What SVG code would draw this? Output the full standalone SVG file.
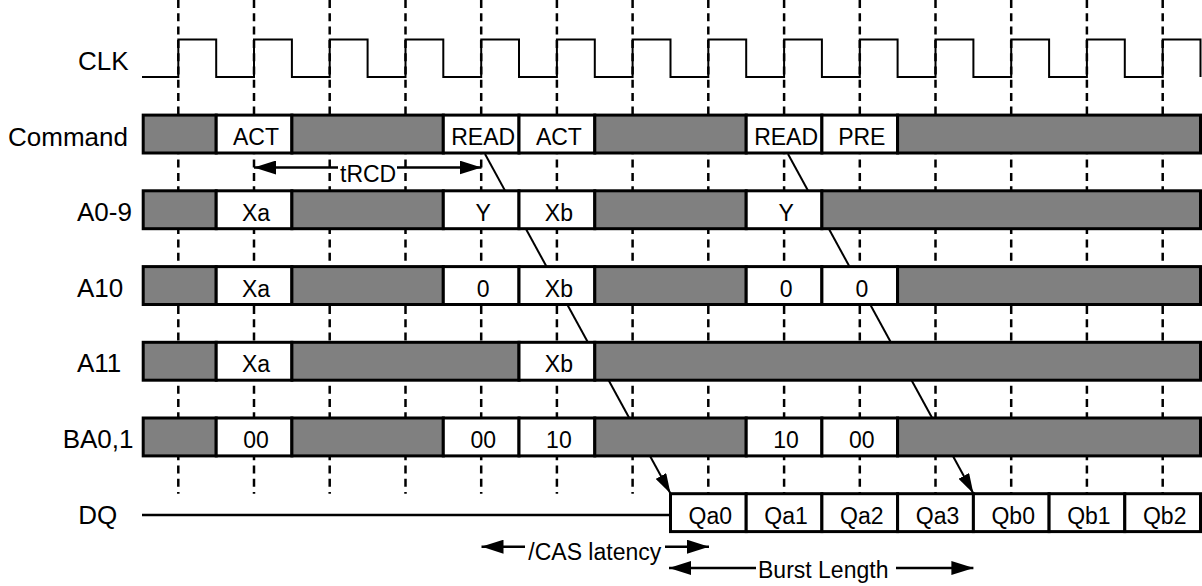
<svg xmlns="http://www.w3.org/2000/svg" width="1202" height="586" viewBox="0 0 1202 586">
<style>
.bg{fill:#ffffff}
.g{fill:#808080;stroke:#000;stroke-width:3}
.w{fill:#ffffff;stroke:#000;stroke-width:3}
.t{font-family:"Liberation Sans",Arial,sans-serif;font-size:23px;fill:#000;text-anchor:middle}
.lbl{font-family:"Liberation Sans",Arial,sans-serif;font-size:26px;fill:#000}
.dim{font-family:"Liberation Sans",Arial,sans-serif;font-size:23px;fill:#000}
.grid{stroke:#000;stroke-width:2.5;stroke-dasharray:8 5.3;fill:none}
.wire{stroke:#000;stroke-width:2;fill:none}
.arr{stroke:#000;stroke-width:2.5;fill:none}
</style>
<defs>
<marker id="ah" markerUnits="userSpaceOnUse" markerWidth="22" markerHeight="14" refX="22" refY="7" orient="auto-start-reverse">
<path d="M0,0 L22,7 L0,14 Z" fill="#000"/>
</marker>
<marker id="ahd" markerUnits="userSpaceOnUse" markerWidth="20" markerHeight="12" refX="20" refY="6" orient="auto">
<path d="M0,0 L20,6 L0,12 Z" fill="#000"/>
</marker>
</defs>
<rect class="bg" x="0" y="0" width="1202" height="586"/>

<g id="grid">
<line class="grid" x1="178.3" y1="0" x2="178.3" y2="493.7"/>
<line class="grid" x1="254.0" y1="0" x2="254.0" y2="493.7"/>
<line class="grid" x1="329.7" y1="0" x2="329.7" y2="493.7"/>
<line class="grid" x1="405.5" y1="0" x2="405.5" y2="493.7"/>
<line class="grid" x1="481.2" y1="0" x2="481.2" y2="493.7"/>
<line class="grid" x1="556.9" y1="0" x2="556.9" y2="493.7"/>
<line class="grid" x1="632.6" y1="0" x2="632.6" y2="493.7"/>
<line class="grid" x1="708.3" y1="0" x2="708.3" y2="493.7"/>
<line class="grid" x1="784.1" y1="0" x2="784.1" y2="493.7"/>
<line class="grid" x1="859.8" y1="0" x2="859.8" y2="493.7"/>
<line class="grid" x1="935.5" y1="0" x2="935.5" y2="493.7"/>
<line class="grid" x1="1011.2" y1="0" x2="1011.2" y2="493.7"/>
<line class="grid" x1="1086.9" y1="0" x2="1086.9" y2="493.7"/>
<line class="grid" x1="1162.7" y1="0" x2="1162.7" y2="493.7"/>
</g>

<g id="connectors">
<line class="wire" x1="485" y1="154" x2="670.5" y2="493.5" marker-end="url(#ahd)"/>
<line class="wire" x1="788" y1="154" x2="973.4" y2="493.5" marker-end="url(#ahd)"/>
<line class="arr" x1="254" y1="167.5" x2="338" y2="167.5" marker-start="url(#ah)"/>
<line class="arr" x1="397" y1="167.5" x2="481.5" y2="167.5" marker-end="url(#ah)"/>
<line class="arr" x1="481.5" y1="546.7" x2="525" y2="546.7" marker-start="url(#ah)"/>
<line class="arr" x1="665" y1="546.7" x2="709" y2="546.7" marker-end="url(#ah)"/>
<line class="arr" x1="669" y1="568" x2="756" y2="568" marker-start="url(#ah)"/>
<line class="arr" x1="896" y1="568" x2="973.4" y2="568" marker-end="url(#ah)"/>
</g>

<g id="row-clk">
<text class="lbl" x="78" y="70">CLK</text>
<path class="wire" d="M142,77 H178.3 V39.4 H216.2 V77 H254 V39.4 H291.9 V77 H329.7 V39.4 H367.6 V77 H405.5 V39.4 H443.3 V77 H481.2 V39.4 H519 V77 H556.9 V39.4 H594.8 V77 H632.6 V39.4 H670.5 V77 H708.3 V39.4 H746.2 V77 H784.1 V39.4 H821.9 V77 H859.8 V39.4 H897.6 V77 H935.5 V39.4 H973.4 V77 H1011.2 V39.4 H1049.1 V77 H1086.9 V39.4 H1124.8 V77 H1162.7 V39.4 H1200.5 V77"/>
</g>

<g id="row-command">
<text class="lbl" x="8" y="145.5">Command</text>
<rect class="g" x="143.2" y="115.1" width="73" height="37.9"/>
<rect class="w" x="216.2" y="115.1" width="75.7" height="37.9"/>
<rect class="g" x="291.9" y="115.1" width="151.4" height="37.9"/>
<rect class="w" x="443.3" y="115.1" width="75.7" height="37.9"/>
<rect class="w" x="519" y="115.1" width="75.8" height="37.9"/>
<rect class="g" x="594.8" y="115.1" width="151.4" height="37.9"/>
<rect class="w" x="746.2" y="115.1" width="75.7" height="37.9"/>
<rect class="w" x="821.9" y="115.1" width="75.7" height="37.9"/>
<rect class="g" x="897.6" y="115.1" width="302.9" height="37.9"/>
<text class="t" x="256" y="145">ACT</text>
<text class="t" x="483.2" y="145">READ</text>
<text class="t" x="558.9" y="145">ACT</text>
<text class="t" x="786.1" y="145">READ</text>
<text class="t" x="861.8" y="145">PRE</text>
</g>

<g id="row-a0-9">
<text class="lbl" x="77" y="221">A0-9</text>
<rect class="g" x="143.2" y="190.8" width="73" height="37.9"/>
<rect class="w" x="216.2" y="190.8" width="75.7" height="37.9"/>
<rect class="g" x="291.9" y="190.8" width="151.4" height="37.9"/>
<rect class="w" x="443.3" y="190.8" width="75.7" height="37.9"/>
<rect class="w" x="519" y="190.8" width="75.8" height="37.9"/>
<rect class="g" x="594.8" y="190.8" width="151.4" height="37.9"/>
<rect class="w" x="746.2" y="190.8" width="75.7" height="37.9"/>
<rect class="g" x="821.9" y="190.8" width="378.6" height="37.9"/>
<text class="t" x="256" y="220.7">Xa</text>
<text class="t" x="483.2" y="220.7">Y</text>
<text class="t" x="558.9" y="220.7">Xb</text>
<text class="t" x="786.1" y="220.7">Y</text>
</g>

<g id="row-a10">
<text class="lbl" x="77" y="296.5">A10</text>
<rect class="g" x="143.2" y="266.6" width="73" height="37.9"/>
<rect class="w" x="216.2" y="266.6" width="75.7" height="37.9"/>
<rect class="g" x="291.9" y="266.6" width="151.4" height="37.9"/>
<rect class="w" x="443.3" y="266.6" width="75.7" height="37.9"/>
<rect class="w" x="519" y="266.6" width="75.8" height="37.9"/>
<rect class="g" x="594.8" y="266.6" width="151.4" height="37.9"/>
<rect class="w" x="746.2" y="266.6" width="75.7" height="37.9"/>
<rect class="w" x="821.9" y="266.6" width="75.7" height="37.9"/>
<rect class="g" x="897.6" y="266.6" width="302.9" height="37.9"/>
<text class="t" x="256" y="296.5">Xa</text>
<text class="t" x="483.2" y="296.5">0</text>
<text class="t" x="558.9" y="296.5">Xb</text>
<text class="t" x="786.1" y="296.5">0</text>
<text class="t" x="861.8" y="296.5">0</text>
</g>

<g id="row-a11">
<text class="lbl" x="77" y="372">A11</text>
<rect class="g" x="143.2" y="342.3" width="73" height="37.9"/>
<rect class="w" x="216.2" y="342.3" width="75.7" height="37.9"/>
<rect class="g" x="291.9" y="342.3" width="227.1" height="37.9"/>
<rect class="w" x="519" y="342.3" width="75.8" height="37.9"/>
<rect class="g" x="594.8" y="342.3" width="605.7" height="37.9"/>
<text class="t" x="256" y="372.2">Xa</text>
<text class="t" x="558.9" y="372.2">Xb</text>
</g>

<g id="row-ba0-1">
<text class="lbl" x="62.7" y="448">BA0,1</text>
<rect class="g" x="143.2" y="418" width="73" height="37.9"/>
<rect class="w" x="216.2" y="418" width="75.7" height="37.9"/>
<rect class="g" x="291.9" y="418" width="151.4" height="37.9"/>
<rect class="w" x="443.3" y="418" width="75.7" height="37.9"/>
<rect class="w" x="519" y="418" width="75.8" height="37.9"/>
<rect class="g" x="594.8" y="418" width="151.4" height="37.9"/>
<rect class="w" x="746.2" y="418" width="75.7" height="37.9"/>
<rect class="w" x="821.9" y="418" width="75.7" height="37.9"/>
<rect class="g" x="897.6" y="418" width="302.9" height="37.9"/>
<text class="t" x="256" y="447.9">00</text>
<text class="t" x="483.2" y="447.9">00</text>
<text class="t" x="558.9" y="447.9">10</text>
<text class="t" x="786.1" y="447.9">10</text>
<text class="t" x="861.8" y="447.9">00</text>
</g>

<g id="row-dq">
<text class="lbl" x="78.3" y="523.5">DQ</text>
<line class="wire" x1="142" y1="515" x2="670.5" y2="515" style="stroke-width:2.5"/>
<rect class="w" x="670.5" y="493.7" width="75.7" height="37.9"/>
<rect class="w" x="746.2" y="493.7" width="75.7" height="37.9"/>
<rect class="w" x="821.9" y="493.7" width="75.7" height="37.9"/>
<rect class="w" x="897.6" y="493.7" width="75.8" height="37.9"/>
<rect class="w" x="973.4" y="493.7" width="75.7" height="37.9"/>
<rect class="w" x="1049.1" y="493.7" width="75.7" height="37.9"/>
<rect class="w" x="1124.8" y="493.7" width="75.7" height="37.9"/>
<text class="t" x="710.3" y="524">Qa0</text>
<text class="t" x="786.1" y="524">Qa1</text>
<text class="t" x="861.8" y="524">Qa2</text>
<text class="t" x="937.5" y="524">Qa3</text>
<text class="t" x="1013.2" y="524">Qb0</text>
<text class="t" x="1088.9" y="524">Qb1</text>
<text class="t" x="1164.7" y="524">Qb2</text>
</g>

<g id="labels">
<text class="dim" x="340" y="182.3">tRCD</text>
<text class="dim" x="528.3" y="560">/CAS latency</text>
<text class="dim" x="758" y="577.7">Burst Length</text>
</g>
</svg>
